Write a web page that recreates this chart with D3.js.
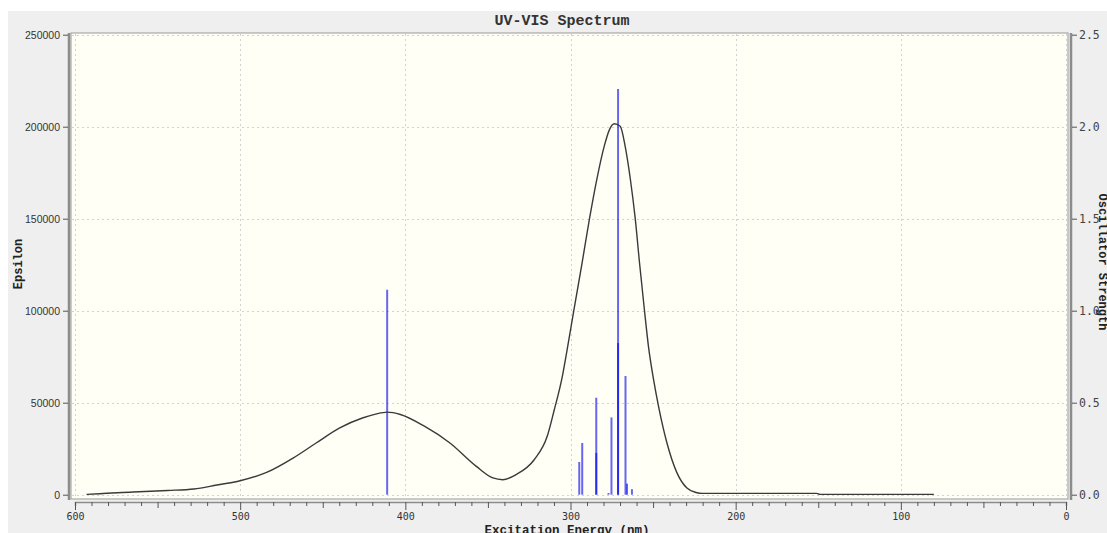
<!DOCTYPE html>
<html>
<head>
<meta charset="utf-8">
<script src="https://cdn.jsdelivr.net/npm/d3@7"></script>
<style>
  body { margin: 0; background: #ffffff; }
  svg { display: block; }
</style>
</head>
<body>
<script>
// spectrum curve (wavelength nm, epsilon)
var curveNm = [593, 585, 565, 544, 528, 514, 500, 484, 468, 454, 440, 426, 418, 411, 403, 389, 373, 357, 347, 341, 333, 322, 314,
               310, 305, 302, 298, 293, 288.5, 284, 279.6, 276.4, 273.5, 269.9, 266.9, 263.8, 260.8, 258.2, 255.2, 252.8,
               249.7, 246.7, 241.6, 235.6, 229.5, 224, 220, 200, 151, 149, 80];
var curveEps = [200, 500, 1500, 2300, 3100, 5300, 7600, 12100, 19900, 28100, 36200, 41700, 43800, 44900, 43600, 37500, 28100, 15400, 9100, 8150, 10900, 19000, 32000,
                45500, 64000, 79000, 100000, 125900, 150000, 171700, 189300, 198400, 201600, 200200, 189300, 171700, 150000, 125900, 100000, 80600,
                62500, 48000, 28100, 12000, 3600, 1200, 700, 700, 700, 150, 150];

// oscillator strength sticks
var stickNm = [411.0, 294.7, 292.9, 284.4, 284.4, 277.0, 275.2, 271.2, 271.2, 266.7, 265.8, 262.8];
var stickOsc = [1.114, 0.178, 0.281, 0.527, 0.227, 0.009, 0.42, 2.205, 0.824, 0.645, 0.06, 0.03];

var xTicks = [600, 500, 400, 300, 200, 100, 0];
var yLeftTicks = [0, 50000, 100000, 150000, 200000, 250000];
var yRightTicks = [0, 0.5, 1.0, 1.5, 2.0, 2.5];

var W = 1107, H = 533;

var svg = d3.select("body")
    .append("svg")
    .attr("width", W)
    .attr("height", H);

// grey panel
svg.append("rect")
    .attr("x", 8).attr("y", 11)
    .attr("width", W - 8).attr("height", H - 11)
    .attr("fill", "#efefef");

var x = d3.scaleLinear().domain([600, 0]).range([75, 1066]);
var yL = d3.scaleLinear().domain([0, 250000]).range([494.7, 34.7]);
var yR = d3.scaleLinear().domain([0, 2.5]).range([494.7, 34.7]);

// plot frame
svg.append("rect")
    .attr("x", 71).attr("y", 33)
    .attr("width", 997).attr("height", 466)
    .attr("fill", "#fffff6")
    .attr("stroke", "#a8a8a8")
    .attr("stroke-width", 1.2);

// grid
var grid = svg.append("g")
    .attr("stroke", "#d2d2d2")
    .attr("stroke-width", 1)
    .attr("stroke-dasharray", "2,3");

grid.selectAll("line.v")
    .data(xTicks)
    .enter()
    .append("line")
    .attr("x1", function (d) { return Math.round(x(d)) + 0.5; })
    .attr("x2", function (d) { return Math.round(x(d)) + 0.5; })
    .attr("y1", 34)
    .attr("y2", 498);

grid.selectAll("line.h")
    .data(yLeftTicks)
    .enter()
    .append("line")
    .attr("x1", 72)
    .attr("x2", 1067)
    .attr("y1", function (d) { return Math.round(yL(d)) + 0.5; })
    .attr("y2", function (d) { return Math.round(yL(d)) + 0.5; });

// sticks
svg.append("g")
    .selectAll("line")
    .data(stickNm)
    .enter()
    .append("line")
    .attr("x1", function (d) { return x(d); })
    .attr("x2", function (d) { return x(d); })
    .attr("y1", yR(0))
    .attr("y2", function (d, i) { return yR(stickOsc[i]); })
    .attr("stroke", "#0000f0")
    .attr("stroke-opacity", 0.6)
    .attr("stroke-width", 2);

// spectrum curve
var line = d3.line()
    .x(function (d) { return x(d); })
    .y(function (d, i) { return yL(curveEps[i]); })
    .curve(d3.curveMonotoneX);

svg.append("path")
    .attr("d", line(curveNm))
    .attr("fill", "none")
    .attr("stroke", "#3a3a3a")
    .attr("stroke-width", 1.4);

// axis spines
svg.append("line")
    .attr("x1", 69).attr("x2", 69).attr("y1", 33).attr("y2", 500)
    .attr("stroke", "#8c8c8c").attr("stroke-width", 2.5);
svg.append("line")
    .attr("x1", 1071).attr("x2", 1071).attr("y1", 33).attr("y2", 500)
    .attr("stroke", "#8c8c8c").attr("stroke-width", 2.5);

// left axis
var leftAxis = svg.append("g")
    .attr("transform", "translate(68,0)")
    .call(d3.axisLeft(yL).tickValues(yLeftTicks).tickSize(5).tickSizeOuter(0).tickPadding(3)
        .tickFormat(d3.format("d")));
leftAxis.select(".domain").remove();
leftAxis.selectAll("line").attr("stroke", "#555");
leftAxis.selectAll("text")
    .attr("font-family", "Liberation Sans, Arial, sans-serif")
    .attr("font-size", "10.5px")
    .attr("fill", "#333");

// right axis
var rightAxis = svg.append("g")
    .attr("transform", "translate(1072,0)")
    .call(d3.axisRight(yR).tickValues(yRightTicks).tickSize(5).tickSizeOuter(0).tickPadding(2)
        .tickFormat(d3.format(".1f")));
rightAxis.select(".domain").remove();
rightAxis.selectAll("line").attr("stroke", "#555");
rightAxis.selectAll("text")
    .attr("font-family", "DejaVu Sans Mono, monospace")
    .attr("font-size", "11.5px")
    .attr("fill", "#444");

// bottom axis
var bottomAxis = svg.append("g")
    .attr("transform", "translate(0,502)")
    .call(d3.axisBottom(x).tickValues(d3.range(0, 601, 10)).tickSizeOuter(0).tickSize(4)
        .tickFormat(function (d) { return d % 100 === 0 ? d : ""; }));
bottomAxis.select(".domain").attr("stroke", "#8c8c8c").attr("stroke-width", 1.5);
bottomAxis.selectAll(".tick line")
    .attr("stroke", "#555")
    .attr("y2", function (d) { return d % 100 === 0 ? 8 : (d % 50 === 0 ? 6 : 4); });
bottomAxis.selectAll(".tick text")
    .attr("y", 11)
    .attr("font-family", "DejaVu Sans Mono, monospace")
    .attr("font-size", "10px")
    .attr("fill", "#333");

// titles
svg.append("text")
    .attr("x", 562).attr("y", 25)
    .attr("text-anchor", "middle")
    .attr("font-family", "Liberation Mono, monospace")
    .attr("font-weight", "bold")
    .attr("font-size", "15px")
    .attr("fill", "#333")
    .text("UV-VIS Spectrum");

svg.append("text")
    .attr("transform", "translate(22,264) rotate(-90)")
    .attr("text-anchor", "middle")
    .attr("font-family", "Liberation Mono, monospace")
    .attr("font-weight", "bold")
    .attr("font-size", "12px")
    .attr("fill", "#222")
    .text("Epsilon");

svg.append("text")
    .attr("x", 567).attr("y", 534)
    .attr("text-anchor", "middle")
    .attr("font-family", "Liberation Mono, monospace")
    .attr("font-weight", "bold")
    .attr("font-size", "12.5px")
    .attr("fill", "#222")
    .text("Excitation Energy (nm)");

svg.append("text")
    .attr("transform", "translate(1099,262) rotate(90)")
    .attr("text-anchor", "middle")
    .attr("font-family", "Liberation Mono, monospace")
    .attr("font-weight", "bold")
    .attr("font-size", "12px")
    .attr("fill", "#222")
    .text("Oscillator Strength");
</script>
</body>
</html>
